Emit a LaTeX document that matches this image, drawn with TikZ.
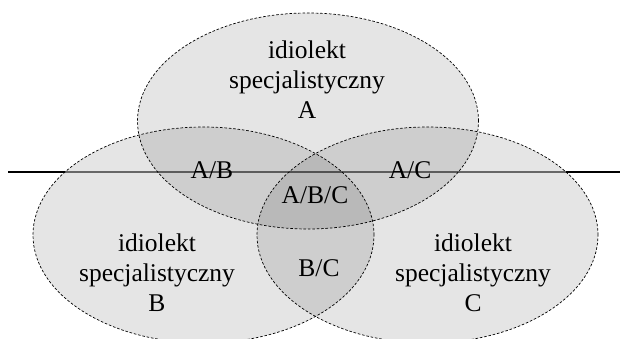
\documentclass[tikz,border=0pt]{standalone}
\usepackage{fontspec}
\setmainfont{Liberation Serif}
\usetikzlibrary{shapes.geometric}
\begin{document}
\begin{tikzpicture}[x=1pt,y=-1pt,
  setbox/.style={ellipse,draw=black,dashed,dash pattern=on 2.6pt off 1.8pt,line width=0.7pt,
    fill=black,fill opacity=0.1,draw opacity=1,minimum width=341pt,minimum height=216pt,inner sep=0pt},
  lbl/.style={align=center,font=\fontsize{25.5}{30}\selectfont,text opacity=1},
  axisline/.style={line width=1.6pt,black},
  axisin/.style={line width=1.6pt,black!55}]
\useasboundingbox (0,0) rectangle (620,339);
% horizontal line
\coordinate (L0) at (8,172);
\coordinate (L1) at (65,172);
\coordinate (L2) at (566,172);
\coordinate (L3) at (620,172);
\draw[axisline] (L0) -- (L1);
\draw[axisin] (L1) -- (L2);
\draw[axisline] (L2) -- (L3);
% sets
\node[setbox] (A) at (308,121) {};
\node[setbox] (B) at (203.5,235) {};
\node[setbox] (C) at (427.5,235) {};
% labels
\node[lbl] (tA) at (307,80) {idiolekt\\specjalistyczny\\A};
\node[lbl] (tB) at (157,273) {idiolekt\\specjalistyczny\\B};
\node[lbl] (tC) at (473,273) {idiolekt\\specjalistyczny\\C};
\node[lbl] (tAB) at (212,170) {A/B};
\node[lbl] (tAC) at (410,170) {A/C};
\node[lbl] (tABC) at (315,195) {A/B/C};
\node[lbl] (tBC) at (319,268) {B/C};
\end{tikzpicture}
\end{document}
